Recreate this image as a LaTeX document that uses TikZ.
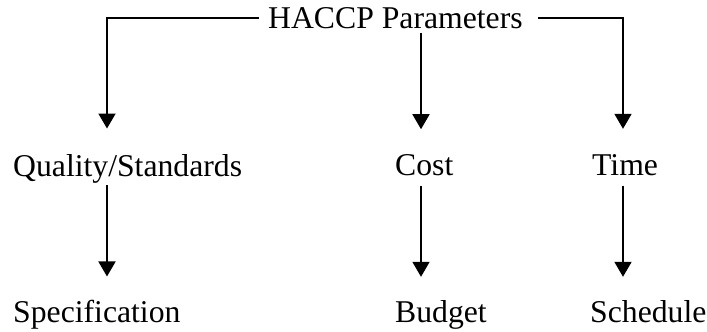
\documentclass[tikz,border=0pt]{standalone}
\usepackage{fontspec}
\setmainfont{Liberation Serif}
\usetikzlibrary{arrows.meta}
\begin{document}
\begin{tikzpicture}[x=1pt,y=-1pt,
  lbl/.style={anchor=base west,inner sep=0pt,font=\fontsize{31.7}{38}\selectfont},
  conn/.style={line width=1.8pt,line join=miter},
  arr/.style={conn,-{Triangle[length=15pt,width=17pt]}}]
\useasboundingbox (0,0) rectangle (707,332);
\node[lbl] (hac) at (268,28) {HACCP Parameters};
\node[lbl] (qs) at (13,176) {Quality/Standards};
\node[lbl] (cost) at (395,175) {Cost};
\node[lbl] (time) at (592,175) {Time};
\node[lbl] (spec) at (13,322) {Specification};
\node[lbl] (bud) at (395,322) {Budget};
\node[lbl] (sch) at (590,322) {Schedule};
\coordinate (hL) at (259,18);
\coordinate (hR) at (538,18);
\coordinate (cL) at (107,18);
\coordinate (cR) at (623,18);
\coordinate (cM) at (421,0);
\draw[arr,shorten >=25.3] (hL) -- (cL) -- (cL |- qs.north);
\draw[arr,shorten >=25] (hR) -- (cR) -- (cR |- time.north);
\draw[arr,shorten <=4,shorten >=24.6] (hac.south -| cM) -- (cost.north -| cM);
\draw[arr,shorten <=2,shorten >=23] (qs.south -| cL) -- (spec.north -| cL);
\draw[arr,shorten <=10,shorten >=23] (cost.south -| cM) -- (bud.north -| cM);
\draw[arr,shorten <=10,shorten >=23] (time.south -| cR) -- (sch.north -| cR);
\end{tikzpicture}
\end{document}
